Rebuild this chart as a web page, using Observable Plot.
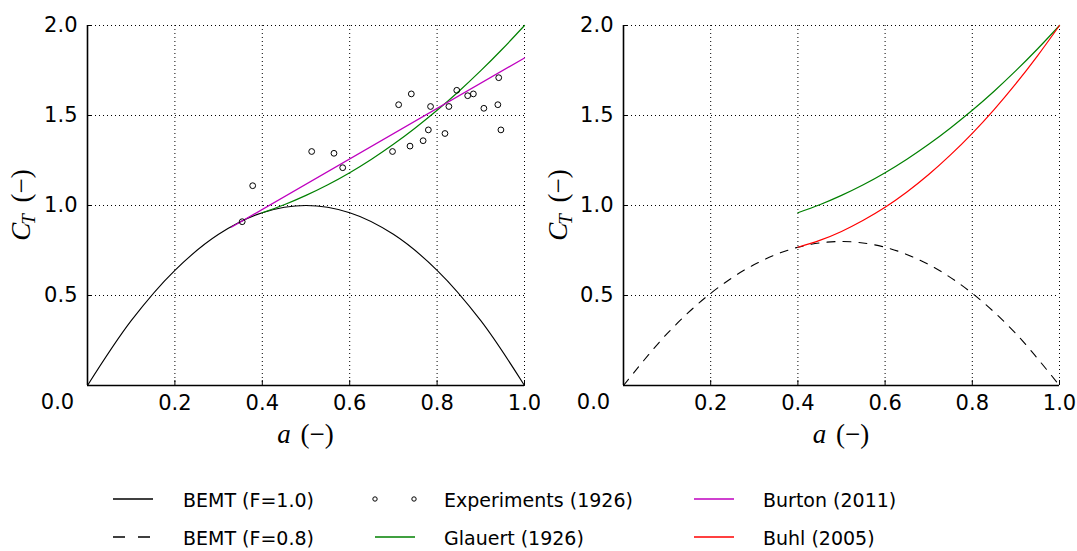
<!DOCTYPE html>
<html><head><meta charset="utf-8">
<script src="https://cdn.jsdelivr.net/npm/d3@7"></script>
<script src="https://cdn.jsdelivr.net/npm/@observablehq/plot@0.6"></script>
<style>
body{margin:0;background:#fff;}
#wrap{position:relative;width:1077px;height:551px;overflow:hidden;font-family:"DejaVu Sans",sans-serif;background:#fff;}
#left{position:absolute;left:0;top:0;}
#right{position:absolute;left:540px;top:0;}
.lt{position:absolute;font-size:19px;line-height:24px;height:24px;white-space:nowrap;color:#000;}
.sw{position:absolute;overflow:visible;}
</style>
</head><body>
<div id="wrap">
  <div id="left"></div>
  <div id="right"></div>
  <svg class="sw" style="left:113px;top:494px" width="40" height="10"><line x1="0" x2="40" y1="5" y2="5" stroke="#000" stroke-width="1.3"/></svg>
  <div class="lt" style="left:183px;top:488px">BEMT (F=1.0)</div>
  <svg class="sw" style="left:113px;top:532px" width="40" height="10"><line x1="0" x2="40" y1="5" y2="5" stroke="#000" stroke-width="1.3" stroke-dasharray="12,13"/></svg>
  <div class="lt" style="left:183px;top:526px">BEMT (F=0.8)</div>
  <svg class="sw" style="left:370px;top:492px" width="50" height="14"><circle cx="5" cy="7" r="2.2" fill="none" stroke="#000" stroke-width="1"/><circle cx="44" cy="7" r="2.2" fill="none" stroke="#000" stroke-width="1"/></svg>
  <div class="lt" style="left:444px;top:488px">Experiments (1926)</div>
  <svg class="sw" style="left:375px;top:532px" width="40" height="10"><line x1="0" x2="40" y1="5" y2="5" stroke="#008000" stroke-width="1.3"/></svg>
  <div class="lt" style="left:444px;top:526px">Glauert (1926)</div>
  <svg class="sw" style="left:694px;top:494px" width="40" height="10"><line x1="0" x2="40" y1="5" y2="5" stroke="#bf00bf" stroke-width="1.3"/></svg>
  <div class="lt" style="left:763px;top:488px">Burton (2011)</div>
  <svg class="sw" style="left:694px;top:532px" width="40" height="10"><line x1="0" x2="40" y1="5" y2="5" stroke="#ff0000" stroke-width="1.3"/></svg>
  <div class="lt" style="left:763px;top:526px">Buhl (2005)</div>
</div>
<script>
// ---- data ----
const aGrid   = [0, 0.1, 0.2, 0.3, 0.4, 0.5, 0.6, 0.7, 0.8, 0.9, 1.0];
const bemtF10 = [0, 0.36, 0.64, 0.84, 0.96, 1.00, 0.96, 0.84, 0.64, 0.36, 0];
const bemtF08 = [0, 0.288, 0.512, 0.672, 0.768, 0.80, 0.768, 0.672, 0.512, 0.288, 0];

const highA     = [0.40, 0.45, 0.50, 0.55, 0.60, 0.65, 0.70, 0.75, 0.80, 0.85, 0.90, 0.95, 1.00];
const glauertCT = [0.960, 1.004, 1.056, 1.115, 1.182, 1.257, 1.340, 1.431, 1.529, 1.635, 1.749, 1.871, 2.000];
const buhlCT    = [0.768, 0.806, 0.856, 0.918, 0.990, 1.075, 1.172, 1.281, 1.401, 1.533, 1.677, 1.833, 2.000];

const burtonA  = [0.33, 1.00];
const burtonCT = [0.88, 1.82];

const expA  = [0.354, 0.378, 0.513, 0.564, 0.584, 0.698, 0.712, 0.741, 0.738, 0.768, 0.780,
               0.785, 0.818, 0.827, 0.845, 0.870, 0.883, 0.907, 0.939, 0.941, 0.946];
const expCT = [0.91, 1.11, 1.30, 1.29, 1.21, 1.30, 1.56, 1.62, 1.33, 1.36, 1.42,
               1.55, 1.40, 1.55, 1.64, 1.61, 1.62, 1.54, 1.56, 1.71, 1.42];

const xTicks = [0.2, 0.4, 0.6, 0.8, 1.0];
const yTicks = [0.5, 1.0, 1.5, 2.0];
const zeroTick = [0.0];

const colors = {bemt: "#000000", glauert: "#008000", burton: "#bf00bf", buhl: "#ff0000"};

// ---- helpers ----
const pts = (xs, ys) => xs.map((x, i) => ({a: x, ct: ys[i]}));
const fmt = d3.format(".1f");

function panel(width, ml, mr, marks) {
  return Plot.plot({
    width, height: 460,
    marginLeft: ml, marginRight: mr, marginTop: 25, marginBottom: 75,
    x: {domain: [0, 1]},
    y: {domain: [0, 2]},
    style: {fontFamily: "DejaVu Sans", fontSize: "21px", color: "black", background: "white", overflow: "visible"},
    marks: [
      Plot.gridX(xTicks, {stroke: "black", strokeOpacity: 1, strokeWidth: 1, strokeDasharray: "1,3"}),
      Plot.gridY(yTicks, {stroke: "black", strokeOpacity: 1, strokeWidth: 1, strokeDasharray: "1,3"}),
      ...marks,
      Plot.ruleX([0], {stroke: "black", strokeWidth: 1.6}),
      Plot.ruleY([0], {stroke: "black", strokeWidth: 1.6}),
      Plot.axisX(xTicks, {tickSize: -5, tickPadding: 15, tickFormat: fmt, label: null, strokeWidth: 1}),
      Plot.axisX(zeroTick, {tickSize: 0, tickPadding: 9, dx: -30, tickFormat: fmt, label: null}),
      Plot.axisY(yTicks, {tickSize: -5, tickPadding: 15, tickFormat: fmt, label: null, strokeWidth: 1})
    ]
  });
}

function addLabels(plot, yLabelX) {
  const sx = plot.scale("x"), sy = plot.scale("y");
  const svg = d3.select(plot.tagName.toLowerCase() === "svg" ? plot : plot.querySelector("svg"));
  const xl = svg.append("text")
    .attr("x", sx.apply(0.5)).attr("y", 443)
    .attr("text-anchor", "middle")
    .attr("font-family", "Liberation Serif, serif").attr("font-size", 27).attr("fill", "black");
  xl.append("tspan").attr("font-style", "italic").text("a");
  xl.append("tspan").attr("dx", 3).text(" (\u2212)");

  const cy = sy.apply(1.0);
  const yl = svg.append("text")
    .attr("transform", `translate(${yLabelX},${cy}) rotate(-90)`)
    .attr("text-anchor", "middle")
    .attr("font-family", "Liberation Serif, serif").attr("font-size", 27).attr("fill", "black");
  yl.append("tspan").attr("font-style", "italic").text("C");
  yl.append("tspan").attr("font-style", "italic").attr("font-size", 19).attr("dy", 5).attr("dx", -2).text("T");
  yl.append("tspan").attr("dy", -5).attr("dx", 5).text(" (\u2212)");
}

// ---- left panel ----
const left = panel(540, 87, 16, [
  Plot.line(pts(aGrid, bemtF10), {x: "a", y: "ct", stroke: colors.bemt, strokeWidth: 1.1, curve: "catmull-rom"}),
  Plot.line(pts(highA, glauertCT), {x: "a", y: "ct", stroke: colors.glauert, strokeWidth: 1.2, curve: "catmull-rom"}),
  Plot.line(pts(burtonA, burtonCT), {x: "a", y: "ct", stroke: colors.burton, strokeWidth: 1.2}),
  Plot.dot(pts(expA, expCT), {x: "a", y: "ct", r: 2.9, stroke: "black", fill: "none", strokeWidth: 1})
]);
addLabels(left, 30);
document.getElementById("left").appendChild(left);

// ---- right panel ----
const right = panel(537, 83, 18, [
  Plot.line(pts(aGrid, bemtF08), {x: "a", y: "ct", stroke: colors.bemt, strokeWidth: 1.1, strokeDasharray: "8,8", curve: "catmull-rom"}),
  Plot.line(pts(highA, glauertCT), {x: "a", y: "ct", stroke: colors.glauert, strokeWidth: 1.2, curve: "catmull-rom"}),
  Plot.line(pts(highA, buhlCT), {x: "a", y: "ct", stroke: colors.buhl, strokeWidth: 1.2, curve: "catmull-rom"})
]);
addLabels(right, 27);
document.getElementById("right").appendChild(right);
</script>
</body></html>
